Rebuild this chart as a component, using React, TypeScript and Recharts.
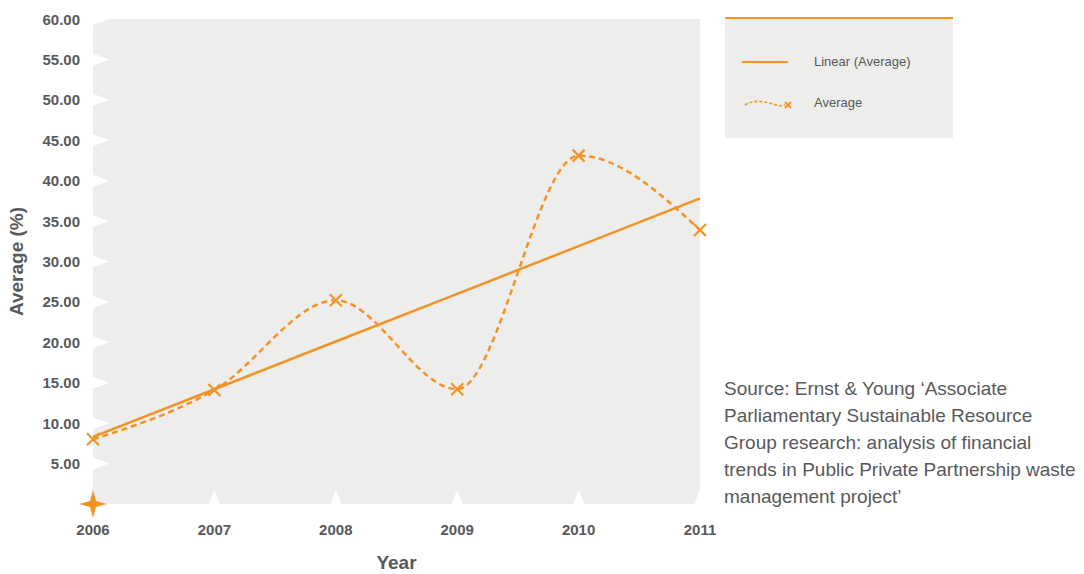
import React from "react";
import { LineChart, Line, XAxis, YAxis, CartesianGrid } from "recharts";

const years = ["2006", "2007", "2008", "2009", "2010", "2011"];
const averageValues = [8.0, 14.1, 25.2, 14.2, 43.1, 33.9];
const linearValues = [8.3, 14.2, 20.1, 26.0, 31.9, 37.8];
const yTicks = [5, 10, 15, 20, 25, 30, 35, 40, 45, 50, 55, 60];

const sourceLines = [
  "Source: Ernst & Young \u2018Associate",
  "Parliamentary Sustainable Resource",
  "Group research: analysis of financial",
  "trends in Public Private Partnership waste",
  "management project\u2019",
];

const data = years.map((year, i) => ({
  year,
  Average: averageValues[i],
  Linear: linearValues[i],
}));

const ORANGE = "#f39325";
const GREY_BG = "#ededec";
const TEXT = "#58595b";
const FONT = "'Liberation Sans', Arial, Helvetica, sans-serif";
const PLOT_LEFT = 93;
const PLOT_BOTTOM = 504;

const CrossDot = (props: any) => {
  const { cx, cy, index } = props;
  if (cx == null || cy == null) return null;
  const s = 6;
  return (
    <g key={`dot-${index}`}>
      <path
        d={`M${cx - s},${cy - s}L${cx + s},${cy + s}M${cx - s},${cy + s}L${cx + s},${cy - s}`}
        stroke={ORANGE}
        strokeWidth={2.2}
        fill="none"
      />
    </g>
  );
};

const YTick = (props: any) => {
  const { y, payload } = props;
  return (
    <g>
      <polygon
        points={`${PLOT_LEFT},${y - 6} ${PLOT_LEFT + 16},${y} ${PLOT_LEFT},${y + 6}`}
        fill="#ffffff"
      />
      <text
        x={80}
        y={y}
        textAnchor="end"
        dominantBaseline="central"
        fill={TEXT}
        fontSize={15}
        fontWeight="bold"
        fontFamily={FONT}
      >
        {payload.value.toFixed(2)}
      </text>
    </g>
  );
};

const XTick = (props: any) => {
  const { x, payload, index } = props;
  return (
    <g>
      {index === 0 ? (
        <polygon
          points={`${x},${PLOT_BOTTOM - 14} ${x + 3},${PLOT_BOTTOM - 3} ${x + 14},${PLOT_BOTTOM} ${x + 3},${PLOT_BOTTOM + 3} ${x},${PLOT_BOTTOM + 14} ${x - 3},${PLOT_BOTTOM + 3} ${x - 14},${PLOT_BOTTOM} ${x - 3},${PLOT_BOTTOM - 3}`}
          fill={ORANGE}
        />
      ) : (
        <polygon
          points={`${x - 6},${PLOT_BOTTOM + 1} ${x},${PLOT_BOTTOM - 14} ${x + 6},${PLOT_BOTTOM + 1}`}
          fill="#ffffff"
        />
      )}
      <text
        x={x}
        y={529}
        textAnchor="middle"
        dominantBaseline="central"
        fill={TEXT}
        fontSize={15}
        fontWeight="bold"
        fontFamily={FONT}
      >
        {payload.value}
      </text>
    </g>
  );
};

const LegendBox = () => (
  <div
    style={{
      position: "absolute",
      left: 725,
      top: 17,
      width: 228,
      height: 119,
      background: GREY_BG,
      borderTop: `2px solid ${ORANGE}`,
      fontFamily: FONT,
      fontSize: 13,
      color: TEXT,
    }}
  >
    <svg width={80} height={110} style={{ position: "absolute", left: 0, top: 0 }}>
      <line x1={17} y1={43} x2={63} y2={43} stroke={ORANGE} strokeWidth={2} />
      <path
        d="M20,86 C28,81 36,82 44,84 S56,88 60,86"
        stroke={ORANGE}
        strokeWidth={1.6}
        strokeDasharray="3 2"
        fill="none"
      />
      <path d="M60,83L66,89M60,89L66,83" stroke={ORANGE} strokeWidth={1.8} />
    </svg>
    <div style={{ position: "absolute", left: 89, top: 35 }}>Linear (Average)</div>
    <div style={{ position: "absolute", left: 89, top: 76 }}>Average</div>
  </div>
);

export default function App() {
  return (
    <div
      style={{
        position: "absolute",
        left: 0,
        top: 0,
        width: 1084,
        height: 574,
        background: "#ffffff",
        fontFamily: FONT,
      }}
    >
      <LineChart
        width={1084}
        height={574}
        data={data}
        margin={{ top: 19, right: 384, bottom: 0, left: 0 }}
      >
        <CartesianGrid fill={GREY_BG} horizontal={false} vertical={false} />
        <XAxis
          dataKey="year"
          height={70}
          axisLine={false}
          tickLine={false}
          tick={<XTick />}
          interval={0}
          label={{
            value: "Year",
            position: "insideBottom",
            offset: 5,
            fill: TEXT,
            fontSize: 19,
            fontWeight: "bold",
            fontFamily: FONT,
          }}
        />
        <YAxis
          width={93}
          domain={[0, 60]}
          ticks={yTicks}
          axisLine={false}
          tickLine={false}
          tick={<YTick />}
          interval={0}
          label={{
            value: "Average (%)",
            angle: -90,
            position: "insideLeft",
            offset: 16,
            fill: TEXT,
            fontSize: 19,
            fontWeight: "bold",
            fontFamily: FONT,
            style: { textAnchor: "middle" },
          }}
        />
        <Line
          type="linear"
          dataKey="Linear"
          name="Linear (Average)"
          stroke={ORANGE}
          strokeWidth={2.5}
          dot={false}
          activeDot={false}
          isAnimationActive={false}
        />
        <Line
          type="monotone"
          dataKey="Average"
          name="Average"
          stroke={ORANGE}
          strokeWidth={2.5}
          strokeDasharray="6 4"
          dot={<CrossDot />}
          activeDot={false}
          isAnimationActive={false}
        />
      </LineChart>
      <LegendBox />
      <div
        style={{
          position: "absolute",
          left: 724,
          top: 375,
          fontSize: 19,
          lineHeight: "27px",
          color: TEXT,
          fontFamily: FONT,
          whiteSpace: "nowrap",
        }}
      >
        {sourceLines.map((line) => (
          <div key={line}>{line}</div>
        ))}
      </div>
    </div>
  );
}
